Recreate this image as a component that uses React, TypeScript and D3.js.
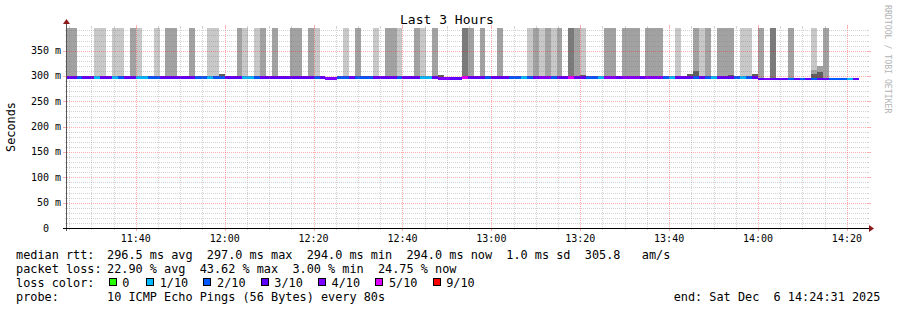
import React from "react";
import * as d3 from "d3";

// ---------- data ----------
const TITLE = "Last 3 Hours";
const Y_AXIS_LABEL = "Seconds";
const WATERMARK = "RRDTOOL / TOBI OETIKER";
const START_TIME = new Date(2025, 11, 6, 11, 24, 31);
const END_TIME = new Date(2025, 11, 6, 14, 24, 31);
const FIRST_STEP = new Date(2025, 11, 6, 11, 24, 0);
const STEP_SECONDS = 80;
const Y_MAX_MS = 394.7;

const X_TICK_LABELS = ["11:40", "12:00", "12:20", "12:40", "13:00", "13:20", "13:40", "14:00", "14:20"];
const Y_TICKS_MS = [0, 50, 100, 150, 200, 250, 300, 350];

// median rtt per 80 s step (ms)
const MEDIAN_MS = [
  297, 297, 297, 297, 297, 297, 297, 297, 297, 297,
  297, 297, 297, 297, 297, 297, 297, 297, 297, 297,
  297, 297, 297, 297, 297, 297, 297, 297, 297, 297,
  297, 297, 297, 297, 297, 297, 297, 297, 297, 297,
  297, 297, 297, 297, 295, 295, 297, 297, 297, 297,
  297, 297, 297, 297, 297, 297, 297, 297, 297, 297,
  297, 297, 297, 295, 295, 295, 295, 297, 297, 297,
  297, 297, 297, 297, 297, 297, 297, 297, 297, 297,
  297, 297, 297, 297, 297, 297, 297, 297, 297, 297,
  297, 297, 297, 297, 297, 297, 297, 297, 297, 297,
  297, 297, 297, 297, 297, 297, 297, 297, 297, 297,
  297, 297, 297, 297, 297, 297, 297, 294, 294, 294,
  294, 294, 294, 294, 294, 294, 294, 294, 294, 294,
  294, 294, 294, 294,
];

// lost pings (of 10) per step
const LOSS = [
  3, 3, 2, 3, 3, 1, 3, 3, 1, 2,
  3, 3, 1, 1, 2, 2, 3, 3, 3, 3,
  3, 3, 2, 2, 1, 2, 2, 3, 3, 3,
  1, 1, 2, 3, 3, 3, 3, 3, 3, 3,
  3, 3, 2, 3, 4, 4, 2, 2, 3, 2,
  2, 2, 3, 3, 3, 3, 2, 3, 3, 3,
  1, 1, 3, 4, 4, 3, 3, 5, 3, 3,
  3, 2, 3, 3, 3, 2, 2, 1, 2, 3,
  4, 4, 2, 3, 3, 5, 3, 3, 2, 2,
  1, 4, 4, 3, 4, 4, 4, 3, 4, 4,
  4, 2, 1, 3, 3, 3, 2, 3, 2, 1,
  3, 3, 3, 2, 1, 2, 3, 3, 4, 3,
  3, 3, 2, 3, 2, 3, 2, 3, 3, 2,
  2, 2, 1, 3,
];

// smoke layers: [step index, top of layer in ms]
const SMOKE_LIGHT: [number, number][] = [
  [5, 420], [6, 420], [8, 420], [9, 420], [12, 420], [15, 420], [24, 420], [25, 420],
  [30, 420], [32, 420], [42, 420], [47, 420], [52, 420], [56, 420], [60, 420], [78, 420],
  [80, 420], [82, 420], [87, 420], [103, 420], [107, 420], [114, 420], [115, 420], [126, 420],
];
const SMOKE_MEDIUM: [number, number][] = [
  [0, 420], [1, 420], [11, 420], [17, 420], [18, 420], [21, 420], [29, 420], [33, 420],
  [35, 420], [38, 420], [39, 420], [41, 420], [49, 420], [54, 420], [55, 420], [59, 420],
  [62, 420], [68, 420], [70, 420], [73, 420], [79, 420], [81, 420], [83, 420], [86, 420],
  [91, 420], [92, 420], [94, 420], [95, 420], [96, 420], [98, 420], [99, 420], [100, 420],
  [106, 420], [108, 420], [110, 420], [111, 420], [112, 420], [117, 420], [122, 420],
  [126, 312], [127, 320], [128, 420],
];
const SMOKE_DARK: [number, number][] = [[67, 420], [85, 420], [119, 420]];
const SMOKE_DARKEST: [number, number][] = [
  [26, 303], [63, 302], [87, 302], [105, 304], [106, 309], [112, 302], [115, 300],
  [116, 303], [126, 304], [127, 307],
];

const LOSS_LEVELS = [0, 1, 2, 3, 4, 5, 9];
const LOSS_COLORS = ["#26ff00", "#00b8ff", "#0059ff", "#5e00ff", "#7e00ff", "#dd00ff", "#ff0000"];
const LOSS_LABELS = ["0", "1/10", "2/10", "3/10", "4/10", "5/10", "9/10"];

const LEGEND_RTT = "296.5 ms avg  297.0 ms max  294.0 ms min  294.0 ms now  1.0 ms sd  305.8   am/s";
const LEGEND_LOSS = "22.90 % avg  43.62 % max  3.00 % min  24.75 % now";
const LEGEND_PROBE = "10 ICMP Echo Pings (56 Bytes) every 80s";
const LEGEND_END = "end: Sat Dec  6 14:24:31 2025";

// ---------- chart ----------
const MONO = "'DejaVu Sans Mono', monospace";

function lossColor(n: number) {
  let c = LOSS_COLORS[0];
  LOSS_LEVELS.forEach((lvl, i) => {
    if (n >= lvl) c = LOSS_COLORS[i];
  });
  return c;
}

export default function App() {
  const W = 897, H = 310;
  const X0 = 67, X1 = 867, Y0 = 228, Y1 = 28;
  const x = d3.scaleTime().domain([START_TIME, END_TIME]).range([X0, X1]);
  const y = d3.scaleLinear().domain([0, Y_MAX_MS]).range([Y0, Y1]);
  const stepDate = (k: number) => new Date(FIRST_STEP.getTime() + k * STEP_SECONDS * 1000);
  const cx = (v: number) => Math.max(X0, Math.min(X1, v));
  const cy = (v: number) => Math.max(Y1, Math.min(Y0, v));

  const smokeRects = (layer: [number, number][], fill: string, key: string) =>
    layer.map(([k, top]) => {
      const xa = cx(x(stepDate(k)));
      const xb = cx(x(stepDate(k + 1)));
      const ya = cy(y(top));
      const yb = cy(y(MEDIAN_MS[k]));
      return (
        <rect key={key + k} x={xa} y={ya} width={Math.max(0, xb - xa)} height={Math.max(0, yb - ya)}
          fill={fill} shapeRendering="crispEdges" />
      );
    });

  const minorTimes = d3.timeMinute.every(5)!.range(START_TIME, END_TIME);
  const majorTimes = d3.timeMinute.every(20)!.range(START_TIME, END_TIME);
  const labelTimes = X_TICK_LABELS.map((s) => {
    const [h, m] = s.split(":").map(Number);
    return new Date(2025, 11, 6, h, m, 0);
  });
  const minorMs = d3.range(10, Y_MAX_MS, 10).filter((v) => v % 50 !== 0);
  const majorMs = Y_TICKS_MS.filter((v) => v > 0);

  const minorCol = "rgba(128,128,128,0.35)";
  const majorCol = "rgba(255,0,0,0.32)";
  const dash = "1 1";

  return (
    <svg width={W} height={H} style={{ position: "absolute", left: 0, top: 0, background: "#fff" }}
      xmlns="http://www.w3.org/2000/svg">
      <rect x={0} y={0} width={W} height={H} fill="#ffffff" />

      {/* smoke */}
      {smokeRects(SMOKE_LIGHT, "#c8c8c8", "l")}
      {smokeRects(SMOKE_MEDIUM, "#a2a2a2", "m")}
      {smokeRects(SMOKE_DARK, "#7a7a7a", "d")}
      {smokeRects(SMOKE_DARKEST, "#5e5e5e", "x")}

      {/* median band coloured by loss */}
      {MEDIAN_MS.map((m, k) => {
        const xa = cx(x(stepDate(k)));
        const xb = cx(x(stepDate(k + 1)));
        return (
          <rect key={"md" + k} x={xa} y={y(m) - 1.3} width={Math.max(0, xb - xa)} height={2.6}
            fill={lossColor(LOSS[k])} shapeRendering="crispEdges" />
        );
      })}

      {/* grid */}
      <g shapeRendering="crispEdges">
        {minorMs.map((v) => {
          const yy = Math.round(y(v)) + 0.5;
          return (
            <g key={"hm" + v}>
              <line x1={X0 - 2} x2={X0} y1={yy} y2={yy} stroke={minorCol} />
              <line x1={X0} x2={X1} y1={yy} y2={yy} stroke={minorCol} strokeDasharray={dash} />
              <line x1={X1} x2={X1 + 2} y1={yy} y2={yy} stroke={minorCol} />
            </g>
          );
        })}
        {minorTimes.filter((t) => t.getMinutes() % 20 !== 0).map((t) => {
          const xx = Math.round(x(t)) + 0.5;
          return (
            <g key={"vm" + t.getTime()}>
              <line x1={xx} x2={xx} y1={Y0} y2={Y0 + 2} stroke={minorCol} />
              <line x1={xx} x2={xx} y1={Y1} y2={Y0} stroke={minorCol} strokeDasharray={dash} />
              <line x1={xx} x2={xx} y1={Y1 - 2} y2={Y1} stroke={minorCol} />
            </g>
          );
        })}
        {majorMs.map((v) => {
          const yy = Math.round(y(v)) + 0.5;
          return (
            <g key={"hM" + v}>
              <line x1={X0 - 4} x2={X0} y1={yy} y2={yy} stroke={majorCol} />
              <line x1={X0} x2={X1} y1={yy} y2={yy} stroke={majorCol} strokeDasharray={dash} />
              <line x1={X1} x2={X1 + 4} y1={yy} y2={yy} stroke={majorCol} />
            </g>
          );
        })}
        {majorTimes.map((t) => {
          const xx = Math.round(x(t)) + 0.5;
          return (
            <g key={"vM" + t.getTime()}>
              <line x1={xx} x2={xx} y1={Y0} y2={Y0 + 3} stroke={majorCol} />
              <line x1={xx} x2={xx} y1={Y1} y2={Y0} stroke={majorCol} strokeDasharray={dash} />
              <line x1={xx} x2={xx} y1={Y1 - 3} y2={Y1} stroke={majorCol} />
            </g>
          );
        })}
      </g>

      {/* axes */}
      <g shapeRendering="crispEdges">
        <line x1={X0 - 0.5} x2={X0 - 0.5} y1={Y0 + 3} y2={Y1 - 6} stroke="#555" strokeWidth={1} />
        <line x1={X0 - 4} x2={X1 + 3} y1={Y0 + 0.5} y2={Y0 + 0.5} stroke="#000" strokeWidth={1.6} />
      </g>
      <path d={`M${X0 - 4},${Y1 - 4} L${X0 + 3},${Y1 - 4} L${X0 - 0.5},${Y1 - 9} Z`} fill="#8b1a1a" />
      <path d={`M${X1 + 2},${Y0 - 3} L${X1 + 2},${Y0 + 4} L${X1 + 7},${Y0 + 0.5} Z`} fill="#8b1a1a" />

      {/* axis labels */}
      <g fontFamily={MONO} fontSize={10} fill="#000">
        {labelTimes.map((t, i) => (
          <text key={"xl" + i} x={x(t)} y={242} textAnchor="middle">{X_TICK_LABELS[i]}</text>
        ))}
        {Y_TICKS_MS.map((v) => (
          <text key={"yl" + v} x={v === 0 ? 61 - 12 : 61} y={y(v) + 3.5} textAnchor="end">
            {v === 0 ? "0" : `${v} m`}
          </text>
        ))}
      </g>

      {/* title and side texts */}
      <text x={447} y={24} textAnchor="middle" fontFamily={MONO} fontSize={13} fill="#000">{TITLE}</text>
      <text transform="translate(15,127) rotate(-90)" textAnchor="middle" fontFamily={MONO} fontSize={11.85}
        fill="#000">{Y_AXIS_LABEL}</text>
      <text transform="translate(885,5) rotate(90)" textAnchor="start" fontFamily={MONO} fontSize={8.2}
        fill="#b4b4b4">{WATERMARK}</text>

      {/* legend */}
      <g fontFamily={MONO} fontSize={11.85} fill="#000" style={{ whiteSpace: "pre" }}>
        <text x={16} y={258.5}>median rtt:</text>
        <text x={107} y={258.5} xmlSpace="preserve">{LEGEND_RTT}</text>
        <text x={16} y={272.5}>packet loss:</text>
        <text x={107} y={272.5} xmlSpace="preserve">{LEGEND_LOSS}</text>
        <text x={16} y={286.5}>loss color:</text>
        {LOSS_LABELS.map((lab, i) => {
          const bx = i === 0 ? 108.5 : 146 + (i - 1) * 57.3;
          return (
            <g key={"lg" + i}>
              <rect x={Math.round(bx) + 0.5} y={278.5} width={7} height={7} fill={LOSS_COLORS[i]} stroke="#000"
                strokeWidth={1} shapeRendering="crispEdges" />
              <text x={bx + 13.7} y={286.5}>{lab}</text>
            </g>
          );
        })}
        <text x={16} y={300.5}>probe:</text>
        <text x={107} y={300.5} xmlSpace="preserve">{LEGEND_PROBE}</text>
        <text x={880.5} y={300.5} textAnchor="end" xmlSpace="preserve">{LEGEND_END}</text>
      </g>
    </svg>
  );
}
